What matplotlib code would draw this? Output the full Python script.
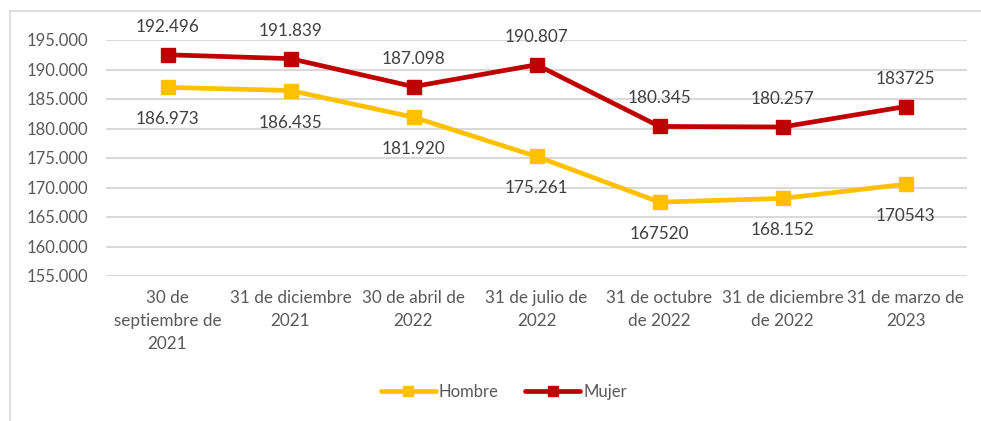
import matplotlib
matplotlib.use("Agg")
import matplotlib.pyplot as plt
from matplotlib.lines import Line2D

categories = ["30 de\nseptiembre de\n2021", "31 de diciembre\n2021", "30 de abril de\n2022",
              "31 de julio de\n2022", "31 de octubre\nde 2022", "31 de diciembre\nde 2022",
              "31 de marzo de\n2023"]
hombre = [186973, 186435, 181920, 175261, 167520, 168152, 170543]
mujer = [192496, 191839, 187098, 190807, 180345, 180257, 183725]
hombre_labels = ["186.973", "186.435", "181.920", "175.261", "167520", "168.152", "170543"]
mujer_labels = ["192.496", "191.839", "187.098", "190.807", "180.345", "180.257", "183725"]
yticks = [155000, 160000, 165000, 170000, 175000, 180000, 185000, 190000, 195000]
ytick_labels = ["155.000", "160.000", "165.000", "170.000", "175.000", "180.000", "185.000", "190.000", "195.000"]

plt.rcParams['font.family'] = ['Lato', 'DejaVu Sans']

W, H = 981, 421
fig = plt.figure(figsize=(W / 100, H / 100), dpi=100)
ax = fig.add_axes([106 / W, 1 - 276 / H, (967 - 106) / W, (276 - 40) / H])

x = list(range(len(categories)))
c_h = "#FFC000"
c_m = "#C00000"
ax.plot(x, hombre, color=c_h, lw=3.4, marker="s", ms=9.5, zorder=3, label="Hombre",
        solid_capstyle="round")
ax.plot(x, mujer, color=c_m, lw=3.4, marker="s", ms=9.5, zorder=3, label="Mujer",
        solid_capstyle="round")

for xi, v, t in zip(x, mujer, mujer_labels):
    ax.annotate(t, (xi, v), xytext=(0, 28), textcoords="offset pixels", ha="center",
                va="center", fontsize=12.3, color="#404040")
for xi, v, t in zip(x, hombre, hombre_labels):
    ax.annotate(t, (xi, v), xytext=(0, -32), textcoords="offset pixels", ha="center",
                va="center", fontsize=12.3, color="#404040")

ax.set_xlim(-0.5, len(categories) - 0.5)
ax.set_ylim(155000, 195000)
ax.set_yticks(yticks)
ax.set_yticklabels(ytick_labels, fontsize=12, color="#595959")
ax.set_xticks(x)
ax.set_xticklabels(categories, fontsize=12.3, color="#595959", linespacing=1.55)
ax.tick_params(axis="both", length=0)
ax.tick_params(axis="y", pad=13)
ax.tick_params(axis="x", pad=10)
ax.grid(axis="y", color="#d9d9d9", lw=1.5)
ax.set_axisbelow(True)
for s in ax.spines.values():
    s.set_visible(False)

leg = fig.legend(loc="center", bbox_to_anchor=(504 / W, 1 - 392 / H), ncol=2, frameon=False,
                 fontsize=12, handlelength=3.3, columnspacing=1.6, handletextpad=0.2,
                 markerscale=0.8)
for t in leg.get_texts():
    t.set_color("#595959")

fig.add_artist(Line2D([10 / W, 10 / W], [0, 1 - 11 / H], transform=fig.transFigure,
                      color="#d9d9d9", lw=1.2))
fig.add_artist(Line2D([10 / W, 1], [1 - 11 / H, 1 - 11 / H], transform=fig.transFigure,
                      color="#d9d9d9", lw=1.2))

fig.savefig("out.png", dpi=100, facecolor="white")
